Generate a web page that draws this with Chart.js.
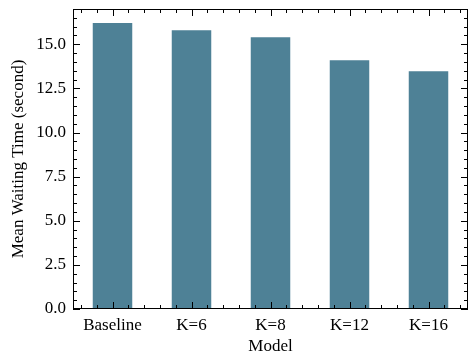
<!DOCTYPE html>
<html>
<head>
<meta charset="utf-8">
<script src="https://cdn.jsdelivr.net/npm/chart.js@4"></script>
<style>
  html, body { margin: 0; padding: 0; background: #fff; }
  #wrap { width: 471px; height: 357px; }
</style>
</head>
<body>
<div id="wrap"><canvas id="waitChart"></canvas></div>
<script>
// data
const models = ["Baseline", "K=6", "K=8", "K=12", "K=16"];
const meanWait = [16.2, 15.8, 15.4, 14.1, 13.47];
const yTicks = [0, 2.5, 5, 7.5, 10, 12.5, 15];

const serif = "'Liberation Serif', 'DejaVu Serif', serif";

// inward ticks on all four sides, like the matplotlib "science" style
const boxTicks = {
  id: "boxTicks",
  afterDraw(chart) {
    const { ctx, chartArea: a, scales } = chart;
    const x = scales.x, y = scales.y;
    ctx.save();
    ctx.strokeStyle = "#000";
    ctx.lineWidth = 1;
    ctx.strokeRect(a.left + 0.5, a.top + 0.5, a.right - a.left - 1, a.bottom - a.top - 1);

    function tick(px, py, dx, dy) {
      ctx.beginPath();
      ctx.moveTo(px, py);
      ctx.lineTo(px + dx, py + dy);
      ctx.stroke();
    }
    // y ticks
    for (let v = 0; v <= y.max + 1e-9; v += 0.5) {
      const py = Math.round(y.getPixelForValue(v)) + 0.5;
      const major = Math.abs(v / 2.5 - Math.round(v / 2.5)) < 1e-6;
      const len = major ? 7 : 4;
      tick(a.left, py, len, 0);
      tick(a.right, py, -len, 0);
    }
    // x ticks
    for (let i = -2; i <= 22; i++) {
      const v = i * 0.2;
      const px = Math.round(x.getPixelForValue(v)) + 0.5;
      if (px <= a.left + 1 || px >= a.right - 1) continue;
      const len = i % 5 === 0 ? 7 : 4;
      tick(px, a.bottom, 0, -len);
      tick(px, a.top, 0, len);
    }
    ctx.restore();
  }
};

const ctx = document.getElementById("waitChart").getContext("2d");
const waitChart = new Chart(ctx, {
  type: "bar",
  data: {
    labels: models,
    datasets: [
      {
        label: "Mean Waiting Time",
        data: meanWait,
        backgroundColor: "#4e8196",
        borderWidth: 0,
        barPercentage: 0.5,
        categoryPercentage: 1.0,
      },
    ],
  },
  options: {
    responsive: true,
    maintainAspectRatio: false,
    animation: false,
    devicePixelRatio: 1,
    layout: {
      padding: { left: 0, right: 3, top: 9, bottom: 0 },
    },
    plugins: {
      legend: { display: false },
      tooltip: { enabled: false },
    },
    scales: {
      x: {
        grid: { display: false, drawTicks: false },
        border: { display: false },
        ticks: {
          color: "#000",
          padding: 6,
          font: { family: serif, size: 17 },
        },
        title: {
          display: true,
          text: "Model",
          color: "#000",
          padding: { top: 0, bottom: 0 },
          font: { family: serif, size: 17 },
        },
        afterFit(scale) {
          scale.height = 48;
          scale.paddingLeft = 0;
          scale.paddingRight = 0;
        },
      },
      y: {
        min: 0,
        max: 17,
        grid: { display: false, drawTicks: false },
        border: { display: false },
        afterBuildTicks(scale) {
          scale.ticks = yTicks.map((v) => ({ value: v }));
        },
        ticks: {
          color: "#000",
          padding: 7,
          font: { family: serif, size: 17 },
          callback: (v) => Number(v).toFixed(1),
        },
        title: {
          display: true,
          text: "Mean Waiting Time (second)",
          color: "#000",
          padding: { top: 8, bottom: 0 },
          font: { family: serif, size: 17 },
        },
        afterFit(scale) {
          scale.width = 73;
          scale.paddingTop = 0;
          scale.paddingBottom = 0;
        },
      },
    },
  },
  plugins: [boxTicks],
});
</script>
</body>
</html>
